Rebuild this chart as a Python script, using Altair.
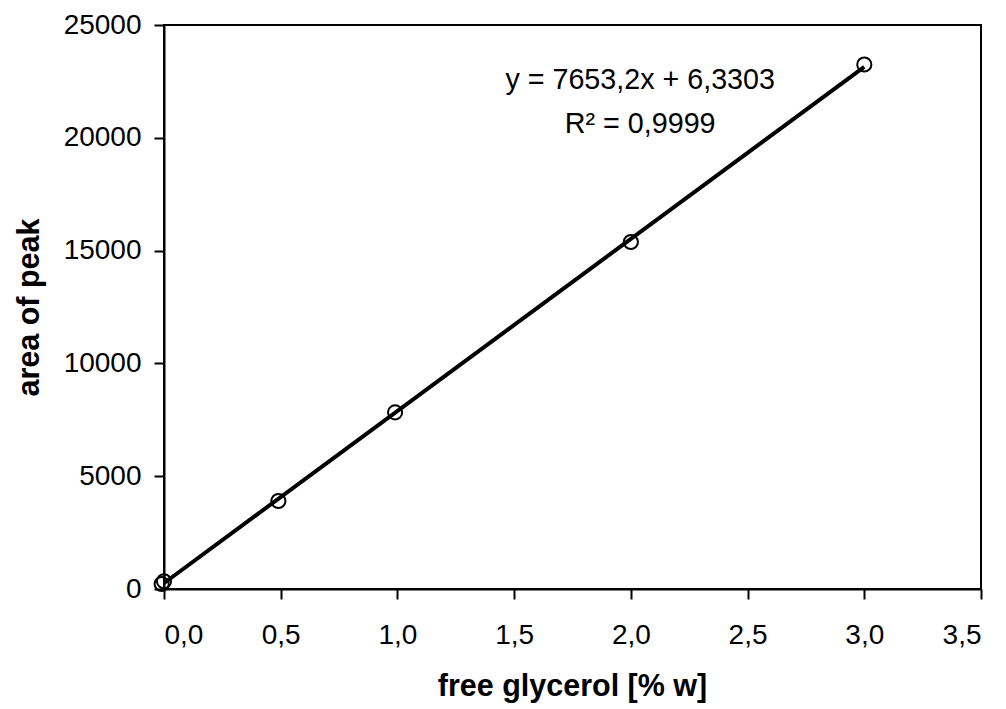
import altair as alt
import pandas as pd

# data
glycerol = [-0.01, 0.0, 0.49, 0.99, 2.0, 3.0]
peak_area = [220, 340, 3900, 7830, 15380, 23250]

eq_lines = ["y = 7653,2x + 6,3303", "R² = 0,9999"]
eq_x = [2.04, 2.04]
eq_y = [22150, 20200]

x_ticks = [0, 0.5, 1.0, 1.5, 2.0, 2.5, 3.0, 3.5]
y_ticks = [0, 5000, 10000, 15000, 20000, 25000]

df = pd.DataFrame({"x": glycerol, "y": peak_area})
ann = pd.DataFrame({"x": eq_x, "y": eq_y, "t": eq_lines})

FONT = "Liberation Sans"

xs = alt.Scale(domain=[0, 3.5], nice=False, zero=False)
ys = alt.Scale(domain=[0, 25000], nice=False)

xax = alt.Axis(
    values=x_ticks,
    labelExpr="replace(format(datum.value, '.1f'), '.', ',')",
    labelPadding=22,
    title="free glycerol [% w]",
    titleX=408, titleY=97, titleAlign="center", titleBaseline="middle",
)
yax = alt.Axis(
    values=y_ticks,
    format="d",
    labelPadding=13,
    title="area of peak",
    titleX=-135, titleY=282, titleAlign="center", titleBaseline="middle", titleAngle=-90,
)

line = alt.Chart(df).transform_regression("x", "y").mark_line(
    color="black", strokeWidth=4, clip=True
).encode(
    x=alt.X("x:Q", scale=xs, axis=xax),
    y=alt.Y("y:Q", scale=ys, axis=yax),
)

pts = alt.Chart(df).mark_point(
    shape="circle", filled=False, color="black", size=200, strokeWidth=2, opacity=1
).encode(
    x=alt.X("x:Q", scale=xs),
    y=alt.Y("y:Q", scale=ys),
)

txt = alt.Chart(ann).mark_text(
    font=FONT, fontSize=28.7, align="center", baseline="alphabetic", color="black"
).encode(
    x=alt.X("x:Q", scale=xs),
    y=alt.Y("y:Q", scale=ys),
    text="t:N",
)

chart = alt.layer(line, pts, txt).properties(
    width=817, height=564,
    background="white",
    autosize=alt.AutoSizeParams(type="none"),
    padding={"left": 156, "top": 17, "right": 17, "bottom": 120},
).configure_view(
    stroke="black", strokeWidth=2
).configure_axis(
    grid=False,
    domainColor="black", domainWidth=2,
    tickColor="black", tickWidth=2, tickSize=10,
    labelFont=FONT, labelFontSize=28, labelColor="black",
    titleFont=FONT, titleFontSize=30.5, titleFontWeight="bold", titleColor="black",
)

chart.save("out.html", embed_options={"renderer": "svg", "actions": False})
